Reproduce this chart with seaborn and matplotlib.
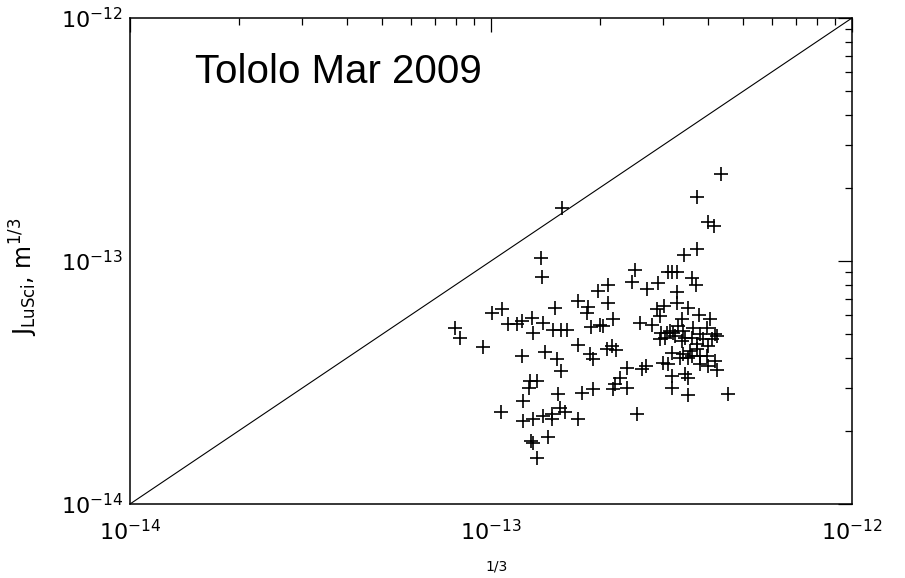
import matplotlib
matplotlib.use("Agg")
import matplotlib.pyplot as plt
import seaborn as sns
import pandas as pd
from matplotlib.ticker import LogLocator, NullFormatter, FixedLocator

# ---- data ----
x_vals = [
    7.95e-14, 8.2e-14, 9.5e-14, 1.006e-13, 1.073e-13, 1.066e-13, 1.115e-13, 1.180e-13,
    1.219e-13, 1.299e-13, 1.393e-13, 1.307e-13, 1.504e-13, 1.485e-13, 1.563e-13, 1.624e-13,
    1.411e-13, 1.219e-13, 1.523e-13, 1.563e-13, 1.282e-13, 1.341e-13, 1.274e-13, 1.226e-13,
    1.226e-13, 1.307e-13, 1.393e-13, 1.476e-13, 1.553e-13, 1.603e-13, 1.476e-13, 1.533e-13,
    1.742e-13, 1.438e-13, 1.290e-13, 1.341e-13, 1.376e-13, 1.385e-13, 1.573e-13, 1.307e-13,
    1.742e-13, 1.857e-13, 1.845e-13, 1.979e-13, 2.110e-13, 2.110e-13, 2.178e-13, 1.892e-13,
    2.004e-13, 2.043e-13, 1.742e-13, 1.881e-13, 1.917e-13, 2.096e-13, 2.164e-13, 2.220e-13,
    1.787e-13, 1.917e-13, 2.178e-13, 2.206e-13, 2.277e-13, 2.381e-13, 2.381e-13, 2.620e-13,
    2.688e-13, 2.538e-13, 2.459e-13, 2.506e-13, 2.705e-13, 2.902e-13, 2.587e-13, 2.793e-13,
    2.958e-13, 2.883e-13, 3.015e-13, 2.939e-13, 3.034e-13, 2.996e-13,
    4.336e-13, 3.720e-13, 3.991e-13, 4.148e-13, 3.720e-13, 3.424e-13, 3.093e-13, 3.172e-13,
    3.275e-13, 3.603e-13, 3.696e-13, 3.275e-13, 3.275e-13, 3.513e-13, 3.768e-13, 4.043e-13,
    3.966e-13, 4.174e-13, 4.095e-13, 3.793e-13, 3.626e-13, 3.403e-13, 3.193e-13, 3.073e-13,
    3.296e-13, 3.381e-13, 3.133e-13, 3.233e-13, 3.446e-13, 3.603e-13, 2.939e-13, 3.381e-13,
    3.720e-13, 3.866e-13, 3.991e-13, 3.720e-13, 3.557e-13, 3.172e-13, 3.403e-13, 3.338e-13,
    3.513e-13, 3.793e-13, 3.966e-13, 3.093e-13, 3.793e-13, 3.991e-13, 4.227e-13, 3.172e-13,
    3.446e-13, 3.513e-13, 3.172e-13, 3.513e-13, 4.534e-13, 4.227e-13, 3.603e-13, 4.174e-13,
]
y_vals = [
    5.32e-14, 4.84e-14, 4.44e-14, 6.13e-14, 6.37e-14, 2.40e-14, 5.53e-14, 5.53e-14,
    5.68e-14, 5.85e-14, 5.58e-14, 5.07e-14, 6.43e-14, 5.22e-14, 5.22e-14, 5.22e-14,
    4.24e-14, 4.08e-14, 3.96e-14, 3.54e-14, 3.22e-14, 3.22e-14, 3.01e-14, 2.66e-14,
    2.20e-14, 2.24e-14, 2.31e-14, 2.35e-14, 2.49e-14, 2.40e-14, 2.24e-14, 2.84e-14,
    2.24e-14, 1.89e-14, 1.82e-14, 1.55e-14, 1.029e-13, 8.63e-14, 1.654e-13, 1.785e-14,
    6.87e-14, 6.49e-14, 6.13e-14, 7.56e-14, 8.00e-14, 6.74e-14, 5.79e-14, 5.37e-14,
    5.47e-14, 5.42e-14, 4.53e-14, 4.16e-14, 3.96e-14, 4.36e-14, 4.48e-14, 4.32e-14,
    2.87e-14, 2.98e-14, 2.98e-14, 3.13e-14, 3.31e-14, 3.01e-14, 3.64e-14, 3.60e-14,
    3.71e-14, 2.35e-14, 8.23e-14, 9.14e-14, 7.70e-14, 8.08e-14, 5.58e-14, 5.47e-14,
    5.07e-14, 6.37e-14, 6.55e-14, 5.96e-14, 4.84e-14, 3.81e-14,
    2.285e-13, 1.836e-13, 1.448e-13, 1.394e-13, 1.121e-13, 1.058e-13, 8.97e-14, 8.97e-14,
    8.97e-14, 8.55e-14, 7.93e-14, 7.42e-14, 6.74e-14, 6.43e-14, 6.02e-14, 5.79e-14,
    5.32e-14, 5.02e-14, 4.79e-14, 5.02e-14, 5.32e-14, 5.17e-14, 5.07e-14, 5.07e-14,
    5.42e-14, 5.79e-14, 5.17e-14, 4.93e-14, 4.84e-14, 4.84e-14, 4.79e-14, 4.70e-14,
    4.57e-14, 4.79e-14, 4.48e-14, 4.36e-14, 4.28e-14, 4.20e-14, 4.16e-14, 4.00e-14,
    4.00e-14, 4.08e-14, 4.08e-14, 3.78e-14, 3.78e-14, 3.71e-14, 3.57e-14, 3.37e-14,
    3.44e-14, 3.31e-14, 3.01e-14, 2.82e-14, 2.84e-14, 4.93e-14, 4.08e-14, 3.89e-14,
]
axis_limits = [1e-14, 1e-12]          # both axes, also the 1:1 line ends
major_ticks = [1e-14, 1e-13, 1e-12]
title_text = "Tololo Mar 2009"
y_label = r"J$_{\rm LuSci}$, m$^{1/3}$"
x_label = "1/3"

df = pd.DataFrame({"x": x_vals, "y": y_vals})

sns.set_style("white")
plt.rcParams["font.family"] = ["DejaVu Sans"]
plt.rcParams["mathtext.fontset"] = "dejavusans"
plt.rcParams["text.color"] = "black"
plt.rcParams["axes.labelcolor"] = "black"
plt.rcParams["xtick.color"] = "black"
plt.rcParams["ytick.color"] = "black"

fig = plt.figure(figsize=(9.05, 5.78), dpi=100)
ax = fig.add_axes([130 / 905, 1 - 504 / 578, 722 / 905, 486 / 578])

ax.plot(axis_limits, axis_limits, color="black", lw=0.8)
sns.scatterplot(data=df, x="x", y="y", marker="+", s=110, color="black",
                linewidth=1.2, ax=ax, legend=False)

ax.set_xscale("log")
ax.set_yscale("log")
ax.set_xlim(axis_limits)
ax.set_ylim(axis_limits)

for a in (ax.xaxis, ax.yaxis):
    a.set_major_locator(FixedLocator(major_ticks))
    a.set_minor_locator(LogLocator(base=10, subs=range(2, 10)))
    a.set_minor_formatter(NullFormatter())

ax.tick_params(which="both", direction="in", top=True, right=True, colors="black")
ax.tick_params(which="major", length=10, width=0.9, labelsize=16)
ax.tick_params(which="minor", length=5, width=0.9)
ax.tick_params(axis="y", which="major", pad=5)
ax.tick_params(axis="x", which="major", pad=11)

for sp in ax.spines.values():
    sp.set_color("black")
    sp.set_linewidth(1.1)

ax.set_ylabel(y_label, fontsize=17)
ax.yaxis.set_label_coords(-0.124, 0.467)
ax.set_xlabel(x_label, fontsize=10)
ax.xaxis.set_label_coords(0.508, -0.115)

ax.text(0.09, 0.888, title_text, transform=ax.transAxes, fontsize=29,
        family="Liberation Sans", color="black", va="center", ha="left")

fig.savefig("out.png", dpi=100, facecolor="white")
